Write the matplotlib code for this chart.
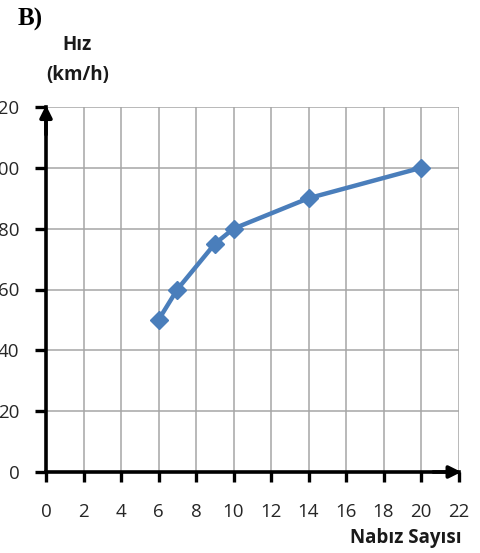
import matplotlib
matplotlib.use("Agg")
import matplotlib.pyplot as plt

# Nabız sayısına göre hız
nabiz = [6, 7, 9, 10, 14, 20]
hiz = [50, 60, 75, 80, 90, 100]
x_ticks = list(range(0, 23, 2))
y_ticks = list(range(0, 121, 20))

plt.rcParams['font.family'] = ['Open Sans', 'DejaVu Sans']

fig = plt.figure(figsize=(4.8, 5.53), dpi=100)
ax = fig.add_axes([46 / 480, (553 - 472) / 553, 412.5 / 480, 365 / 553])

ax.set_xlim(0, 22)
ax.set_ylim(0, 120)
ax.set_xticks(x_ticks)
ax.set_yticks(y_ticks)
ax.set_xticklabels([str(v) for v in x_ticks])
ax.set_yticklabels([str(v) for v in y_ticks])

ax.grid(True, color='#a6a6a6', linewidth=1.1)
ax.set_axisbelow(True)

for s in ['top', 'right']:
    ax.spines[s].set_visible(False)
for s in ['left', 'bottom']:
    ax.spines[s].set_linewidth(2.6)
    ax.spines[s].set_color('black')

ax.tick_params(axis='x', direction='out', length=7, width=2.4, labelsize=13.5,
               pad=15, colors='black', labelcolor='#262626')
ax.tick_params(axis='y', direction='out', length=8, width=2.4, labelsize=13.5,
               pad=11, colors='black', labelcolor='#262626')

# Eksen okları
ax.annotate('', xy=(0, 121.5), xytext=(0, 110), xycoords='data',
            arrowprops=dict(arrowstyle='-|>', color='black', lw=2.6,
                            mutation_scale=18), annotation_clip=False)
ax.annotate('', xy=(22.3, 0), xytext=(20.5, 0), xycoords='data',
            arrowprops=dict(arrowstyle='-|>', color='black', lw=2.6,
                            mutation_scale=18), annotation_clip=False)

ax.plot(nabiz, hiz, color='#4a7ebb', linewidth=3.2, marker='D',
        markersize=9, markerfacecolor='#4a7ebb', markeredgecolor='#4a7ebb',
        clip_on=False, zorder=5)

fig.text(18 / 480, 1 - 19 / 553, 'B)', fontsize=18, fontweight='bold',
         family=['Liberation Serif', 'DejaVu Serif'], ha='left', va='center')
fig.text(77 / 480, 1 - 45 / 553, 'Hız', fontsize=13.5, fontweight='bold',
         ha='center', va='center', color='#1a1a1a')
fig.text(78 / 480, 1 - 75 / 553, '(km/h)', fontsize=13.5, fontweight='bold',
         ha='center', va='center', color='#1a1a1a')
fig.text(406 / 480, 1 - 538 / 553, 'Nabız Sayısı', fontsize=13.5,
         fontweight='bold', ha='center', va='center', color='#1a1a1a')

fig.savefig('out.png', dpi=100)
